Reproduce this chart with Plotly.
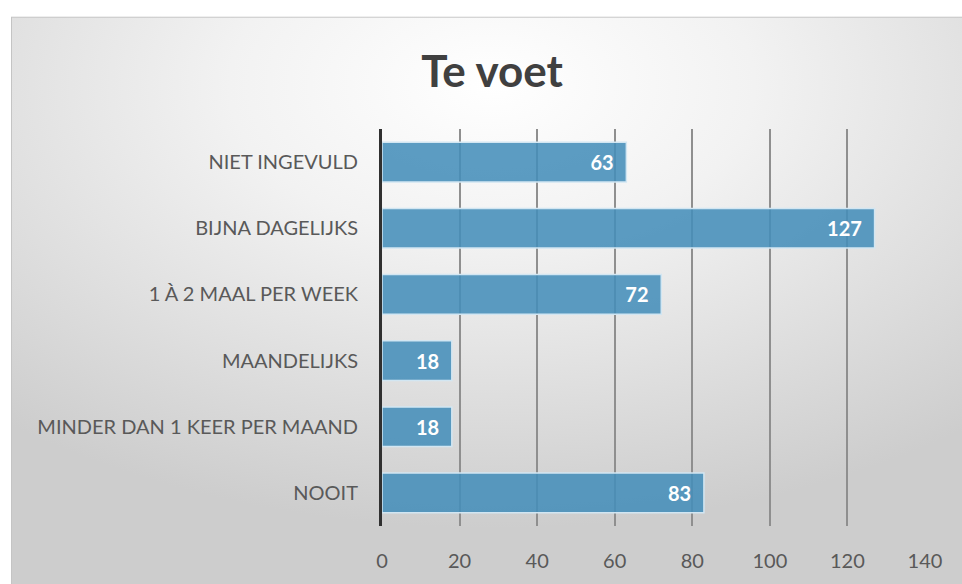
import plotly.graph_objects as go
import base64

# data
categories = ['NIET INGEVULD', 'BIJNA DAGELIJKS', '1 À 2 MAAL PER WEEK',
              'MAANDELIJKS', 'MINDER DAN 1 KEER PER MAAND', 'NOOIT']
values = [63, 127, 72, 18, 18, 83]
x_ticks = [0, 20, 40, 60, 80, 100, 120, 140]

W, H = 962, 584

# plot area in pixels
px_left, px_right, px_top, px_bottom = 382, 925, 129, 532
ml, mt = px_left, px_top
mr, mb = W - px_right, H - px_bottom
pw, ph = W - ml - mr, H - mt - mb

# radial gradient background (Excel style)
svg = ('<svg xmlns="http://www.w3.org/2000/svg" width="962" height="584" preserveAspectRatio="none">'
       '<defs><radialGradient id="g" cx="0.5" cy="0.12" r="0.78">'
       '<stop offset="0" stop-color="#ffffff"/>'
       '<stop offset="0.35" stop-color="#f2f2f2"/>'
       '<stop offset="1" stop-color="#cdcdcd"/>'
       '</radialGradient></defs>'
       '<rect width="962" height="584" fill="url(#g)" stroke="#c4c4c4" stroke-width="2"/></svg>')
bg = 'data:image/svg+xml;base64,' + base64.b64encode(svg.encode()).decode()

fig = go.Figure()

fig.add_trace(go.Bar(
    x=values,
    y=categories,
    orientation='h',
    width=0.6,
    marker=dict(color='rgba(70,142,186,0.88)',
                line=dict(color='#d2e6f2', width=1.5)),
    text=values,
    texttemplate='%{x}\u00a0\u00a0',
    textposition='inside',
    insidetextanchor='end',
    textfont=dict(family='Lato', size=20, color='white', weight='bold'),
    hoverinfo='skip',
))

# frame starts at (11, 15), runs off the right and bottom of the window
frame_left, frame_top = 11, 15
fig.add_layout_image(dict(
    source=bg,
    xref='paper', yref='paper',
    x=(frame_left - ml) / pw, y=1 + (mt - frame_top) / ph,
    sizex=(W - frame_left) / pw + 0.02, sizey=(H - frame_top) / ph + 0.02,
    xanchor='left', yanchor='top',
    sizing='stretch', layer='below',
))

fig.update_layout(
    width=W, height=H,
    margin=dict(l=ml, r=mr, t=mt, b=mb),
    paper_bgcolor='white',
    plot_bgcolor='rgba(0,0,0,0)',
    showlegend=False,
    title=dict(text='<b>Te voet</b>', x=492 / W, xanchor='center',
               y=1 - 72 / H, yanchor='middle',
               font=dict(family='Lato', size=44, color='#404040')),
    xaxis=dict(
        range=[0, 140],
        tickvals=x_ticks,
        showgrid=True, gridcolor='#8f8f8f', gridwidth=2,
        zeroline=False,
        ticks='outside', ticklen=17, tickcolor='rgba(0,0,0,0)',
        tickfont=dict(family='Lato', size=20, color='#595959'),
        fixedrange=True,
    ),
    yaxis=dict(
        autorange='reversed',
        showline=True, linecolor='#303030', linewidth=3,
        ticks='outside', ticklen=17, tickcolor='rgba(0,0,0,0)',
        tickfont=dict(family='Lato', size=20, color='#595959'),
        showgrid=False,
        fixedrange=True,
    ),
)

# drop the default body margin so the figure sits at the window's top left
fig.write_html('out.html',
               config={'displayModeBar': False},
               post_script="document.body.style.margin='0';document.body.style.overflow='hidden';")
